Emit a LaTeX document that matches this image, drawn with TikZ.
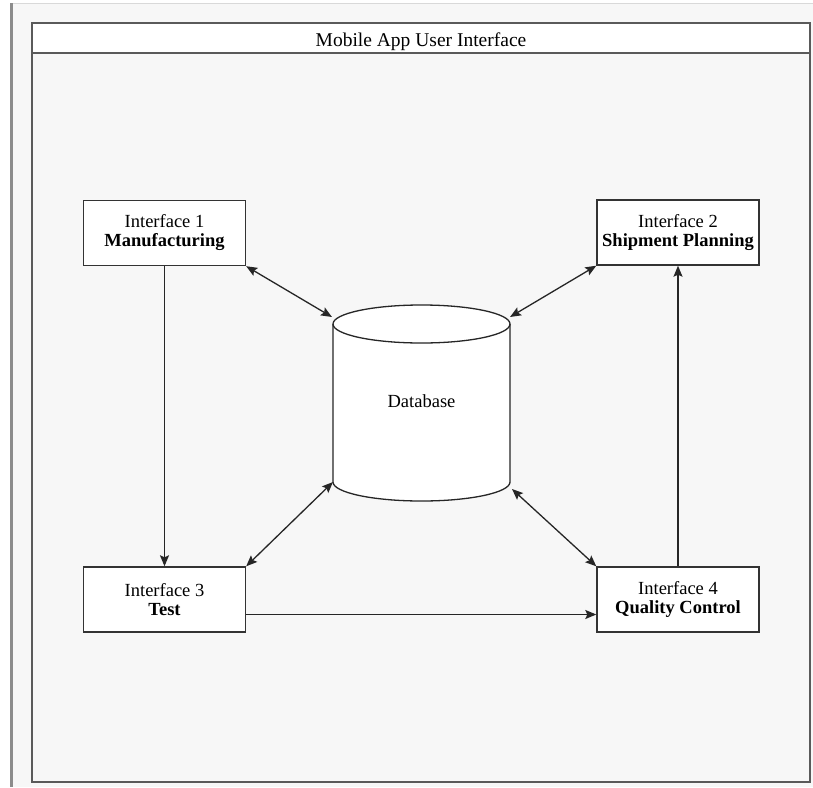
\documentclass[tikz,border=0pt]{standalone}
\usepackage{fontspec}
\setmainfont{Liberation Serif}
\usetikzlibrary{arrows.meta}
\definecolor{fundo}{HTML}{F7F7F7}
\definecolor{borda}{HTML}{5A5A5A}
\begin{document}
\begin{tikzpicture}[x=1pt,y=-1pt,
	iface/.style={draw=black!80, line width=1.4pt, fill=white, minimum width=162pt,
		minimum height=65pt, inner sep=0pt, align=center, font=\fontsize{18.5}{19}\selectfont},
	seta/.style={draw=black!85, line width=1.3pt, -{Stealth[length=11pt,width=9pt,inset=2pt]}},
	dupla/.style={seta, {Stealth[length=11pt,width=9pt,inset=2pt]}-{Stealth[length=11pt,width=9pt,inset=2pt]}}]

\useasboundingbox (0,0) rectangle (813,787);

% Fundo da pagina
	\fill[fundo] (13,3) rectangle (813,787);
	\draw[black!15, line width=1pt] (13,3) -- (813,3);
	\fill[black!45] (10,3) rectangle (13,787);

% Marco principal
	\draw[borda, line width=1.6pt] (32,23) rectangle (810,782);
	\draw[borda, line width=1.6pt, fill=white] (32,23) rectangle (810,53);
	\node[font=\fontsize{19.5}{20}\selectfont] (titulo) at (421,42) {Mobile App User Interface};

% Base de dados
	\fill[white] (333,324) -- (333,482) arc[start angle=180, end angle=0, x radius=88.5, y radius=19]
		-- (510,324) arc[start angle=0, end angle=-180, x radius=88.5, y radius=19] -- cycle;
	\draw[black!85, line width=1.3pt] (333,324) -- (333,482) arc[start angle=180, end angle=0, x radius=88.5, y radius=19]
		-- (510,324);
	\draw[black!85, line width=1.3pt] (421.5,324) ellipse[x radius=88.5, y radius=19];
	\node[font=\fontsize{18.5}{19}\selectfont] (db) at (421.5,401) {Database};

	\coordinate (db-no) at (332,317);
	\coordinate (db-ne) at (510,317);
	\coordinate (db-so) at (333,482);
	\coordinate (db-se) at (512,489);

% Interfaces
	\node[iface] (mf) at (164.5,233) {Interface 1\\\textbf{Manufacturing}};
	\node[iface] (sp) at (678,232.5) {Interface 2\\\textbf{Shipment Planning}};
	\node[iface] (ts) at (164.5,599.5) {Interface 3\\\textbf{Test}};
	\node[iface] (qc) at (678,599.5) {Interface 4\\\textbf{Quality Control}};

% Ligacoes
	\draw[seta] (mf) -- (ts);
	\draw[seta] (qc) -- (sp);
	\draw[seta] ([yshift=-15pt]ts.east) -- ([yshift=-15pt]qc.west);

	\draw[dupla] (mf.south east) -- (db-no);
	\draw[dupla] (sp.south west) -- (db-ne);
	\draw[dupla] (ts.north east) -- (db-so);
	\draw[dupla] (qc.north west) -- (db-se);
\end{tikzpicture}
\end{document}
